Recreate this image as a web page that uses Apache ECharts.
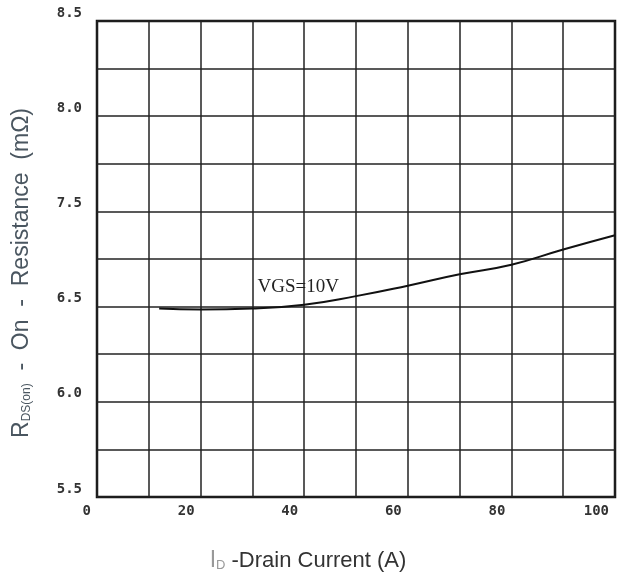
<!DOCTYPE html>
<html>
<head>
<meta charset="utf-8">
<script src="https://cdn.jsdelivr.net/npm/echarts@6/dist/echarts.min.js"></script>
<style>
  html, body { margin: 0; padding: 0; background: #fff; }
  #chart { width: 623px; height: 584px; }
</style>
</head>
<body>
<div id="chart"></div>
<script>
// drain current (A) and on-resistance (mOhm)
const drainCurrent = [12, 20, 30, 40, 50, 60, 70, 80, 90, 100]
const onResistance = [6.49, 6.485, 6.49, 6.51, 6.555, 6.61, 6.67, 6.72, 6.8, 6.875]

// printed tick labels (the datasheet skips 7.0)
const yTickLabels = ['5.5', '6.0', '6.5', '7.5', '8.0', '8.5']
const xTickLabels = ['0', '20', '40', '60', '80', '100']

const curveName = 'VGS=10V'
const curveLabelAt = 40

const myChart = echarts.init(document.getElementById('chart'))

const tickFont = {
    fontFamily: 'DejaVu Sans Mono',
    fontWeight: 'bold',
    fontSize: 14,
    color: '#333'
}

myChart.setOption({
    animation: false,
    grid: {
        left: 97,
        top: 21,
        right: 8,
        bottom: 87,
        show: true,
        borderColor: '#111',
        borderWidth: 2.5
    },
    xAxis: {
        type: 'value',
        min: 0,
        max: 100,
        interval: 10,
        axisLine: { show: false },
        axisTick: { show: false },
        splitLine: { lineStyle: { color: '#222', width: 1.5 } },
        axisLabel: Object.assign({}, tickFont, {
            align: 'right',
            margin: 7,
            padding: [0, 6, 0, 0],
            formatter: function (v) {
                return v % 20 === 0 ? xTickLabels[v / 20] : ''
            }
        }),
        name: '{i|I}{sub|D}{t| -Drain Current (A)}',
        nameLocation: 'middle',
        nameGap: 52,
        nameTextStyle: {
            padding: [0, 96, 0, 0],
            rich: {
                i: { fontSize: 23, color: '#999', fontFamily: 'Liberation Sans' },
                sub: { fontSize: 13, color: '#999', fontFamily: 'Liberation Sans', verticalAlign: 'bottom', padding: [8, 0, 0, 0] },
                t: { fontSize: 22, color: '#333', fontFamily: 'Liberation Sans' }
            }
        }
    },
    yAxis: {
        type: 'value',
        min: 5.5,
        max: 8.0,
        interval: 0.25,
        axisLine: { show: false },
        axisTick: { show: false },
        splitLine: { lineStyle: { color: '#222', width: 1.5 } },
        axisLabel: Object.assign({}, tickFont, {
            margin: 15,
            verticalAlign: 'bottom',
            padding: [0, 0, 1, 0],
            formatter: function (v) {
                const i = Math.round((v - 5.5) / 0.5 * 1000) / 1000
                return Number.isInteger(i) ? yTickLabels[i] : ''
            }
        }),
        name: '{r|R}{sub|DS(on)}{t|  -  On  -  Resistance  (mΩ)}',
        nameLocation: 'middle',
        nameGap: 64,
        nameRotate: 90,
        nameTextStyle: {
            padding: [0, 28, 0, 0],
            rich: {
                r: { fontSize: 23, color: '#4a5660', fontFamily: 'Liberation Sans' },
                sub: { fontSize: 12, color: '#4a5660', fontFamily: 'Liberation Sans', verticalAlign: 'bottom', padding: [8, 0, 0, 0] },
                t: { fontSize: 23, color: '#4a5660', fontFamily: 'Liberation Sans' }
            }
        }
    },
    series: [{
        type: 'line',
        name: curveName,
        smooth: true,
        symbol: 'circle',
        symbolSize: 0,
        showSymbol: true,
        lineStyle: { color: '#111', width: 2 },
        itemStyle: { color: '#111' },
        data: drainCurrent.map(function (x, i) {
            const item = { value: [x, onResistance[i]] }
            if (x === curveLabelAt) {
                item.label = {
                    show: true,
                    formatter: curveName,
                    position: 'top',
                    distance: 8,
                    offset: [-6, 0],
                    fontFamily: 'Liberation Serif',
                    fontSize: 19,
                    color: '#222'
                }
            }
            return item
        })
    }]
})
</script>
</body>
</html>
